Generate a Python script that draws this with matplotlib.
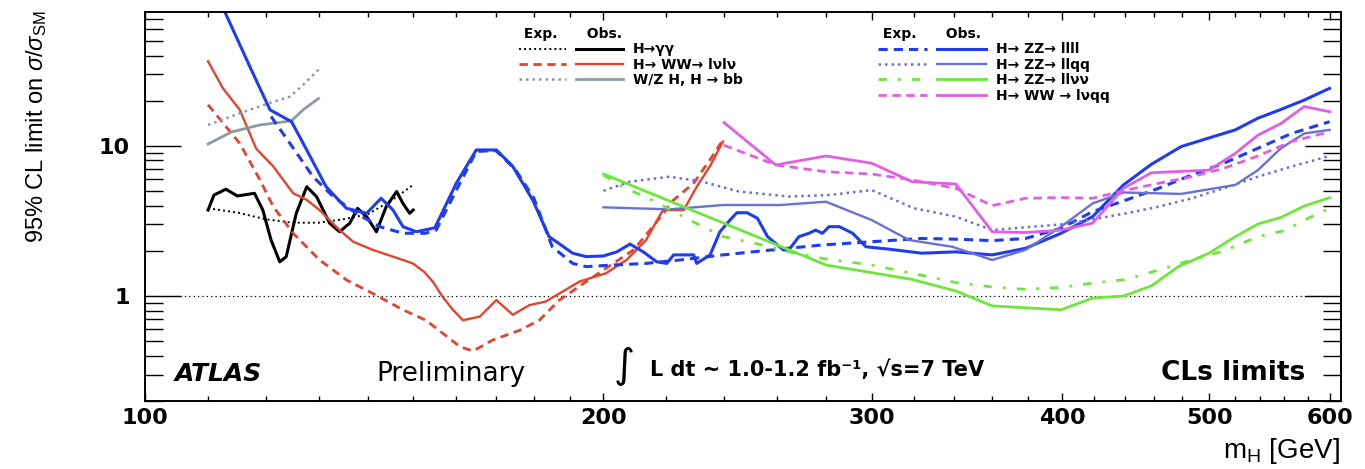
import matplotlib
matplotlib.use('Agg')
import matplotlib.pyplot as plt
from matplotlib.legend_handler import HandlerTuple

plt.rcParams['font.family'] = 'DejaVu Sans'
plt.rcParams['mathtext.fontset'] = 'custom'
plt.rcParams['mathtext.rm'] = 'Liberation Sans'
plt.rcParams['mathtext.it'] = 'Liberation Sans:italic'
plt.rcParams['mathtext.bf'] = 'Liberation Sans:bold'

# H -> gamma gamma
gg_exp_m = [110, 115, 120, 125, 130, 135, 140, 145, 150]
gg_exp_v = [3.84, 3.6, 3.25, 3.08, 3.08, 3.25, 3.5, 4.3, 5.5]
gg_obs_m = [110, 111, 113, 115, 118, 119.5, 121, 122.6, 123.8, 125.7, 127.7, 129.6,
            132.2, 134.2, 136.3, 137.9, 139.8, 141.9, 144, 146.3, 147.7, 149.2, 150]
gg_obs_v = [3.74, 4.71, 5.15, 4.64, 4.84, 3.74, 2.36, 1.69, 1.83, 3.56, 5.35, 4.6,
            3.06, 2.68, 3.06, 3.84, 3.38, 2.68, 3.94, 4.97, 4.14, 3.56, 3.74]

# H -> WW -> lvlv
wwlv_exp_m = [110, 115.4, 119, 121.4, 125.1, 130.2, 135.6, 141.1, 147.7, 152.9, 156, 161,
              164.2, 169.2, 176.1, 181.5, 187.1, 194.9, 203, 209.3, 215.5, 222.4, 229.2,
              234.9, 239.6]
wwlv_exp_v = [18.8, 10.4, 5.93, 3.94, 2.62, 1.74, 1.28, 1.04, 0.81, 0.69, 0.59, 0.46,
              0.43, 0.51, 0.59, 0.69, 0.94, 1.25, 1.65, 2.03, 2.9, 4.37, 5.64, 8.07, 10.96]
wwlv_obs_m = [110, 112.5, 115.4, 118.3, 121.4, 125.1, 127.7, 130.2, 134.2, 137, 141.1,
              145.5, 149.9, 152.5, 154.5, 156.8, 159.3, 161.7, 165.9, 170.1, 174.4, 178.8,
              183.3, 187.1, 192.9, 200.8, 207.1, 213.3, 218.8, 225.8, 230.3, 234.9, 239.6]
wwlv_obs_v = [36.6, 24.2, 17.4, 9.6, 7.3, 4.84, 4.37, 3.74, 2.75, 2.3, 2.03, 1.83, 1.65,
              1.45, 1.25, 0.99, 0.81, 0.69, 0.73, 0.94, 0.75, 0.87, 0.92, 1.04, 1.25, 1.42,
              1.74, 2.36, 3.74, 3.74, 5.35, 7.3, 10.7]

# W/Z H, H -> bb
bb_exp_m = [110, 115.4, 121.4, 124.5, 127, 130]
bb_exp_v = [13.8, 16.5, 19.7, 21.3, 25.5, 32.2]
bb_obs_m = [110, 114, 119, 124.8, 127, 130]
bb_obs_v = [10.3, 12.4, 13.8, 14.7, 17.4, 20.7]

# H -> ZZ -> llll
zz4l_exp_m = [121, 124.5, 128.9, 132.9, 137.6, 142.6, 147.7, 152.9, 155.3, 160, 165, 170,
              175, 180, 185.1, 190.9, 194.9, 203, 213.3, 224.6, 239.6, 258.1, 278.5, 300,
              323.6, 342.5, 360, 378.6, 399.5, 419, 441, 463, 487, 511, 538, 566, 599.6]
zz4l_exp_v = [15.7, 10.4, 6.25, 4.6, 3.56, 2.9, 2.62, 2.62, 2.75, 5.0, 9.2, 9.3, 7.0, 4.5,
              2.13, 1.65, 1.57, 1.61, 1.65, 1.74, 1.88, 2.03, 2.19, 2.3, 2.42, 2.39, 2.34,
              2.42, 2.83, 3.65, 4.37, 5.22, 6.42, 7.67, 9.65, 12.1, 14.5]
zz4l_obs_m = [110, 112.9, 117.2, 120.8, 124.8, 127.7, 131.5, 135.6, 139.8, 142.9, 145.5,
              147.7, 150.7, 155, 160.1, 165, 170.1, 174.4, 179.7, 184.2, 190.9, 194.9, 200,
              204.1, 208.2, 212.4, 216.8, 220.1, 222.4, 229.2, 230.3, 235, 238.5, 242.2,
              244.7, 248.5, 252.4, 256.3, 262.5, 264.7, 268.8, 272.9, 275.6, 278.5, 281.3,
              285.7, 291.5, 297.4, 308.3, 323.6, 340.7, 360, 378.6, 399.5, 419, 439, 458,
              479, 499.6, 520, 538, 557, 577, 599.6]
zz4l_obs_v = [135, 77, 33.6, 17.4, 14.5, 9.4, 5.35, 3.84, 3.56, 4.48, 3.74, 2.9, 2.68,
              2.85, 5.64, 9.4, 9.4, 7.29, 4.37, 2.49, 1.93, 1.83, 1.85, 1.97, 2.22, 1.97,
              1.69, 1.65, 1.88, 1.88, 1.65, 1.88, 2.68, 3.21, 3.59, 3.59, 3.3, 2.49, 2.03,
              2.03, 2.49, 2.62, 2.75, 2.62, 2.9, 2.9, 2.62, 2.13, 2.05, 1.93, 1.97, 1.88,
              2.08, 2.62, 3.38, 5.5, 7.55, 9.9, 11.3, 12.8, 15.3, 17.5, 20.2, 24.2]

# H -> ZZ -> llqq
zzqq_exp_m = [200, 208, 221, 232.4, 245.5, 264.7, 281.3, 300, 320, 340.7, 360, 378.6,
              399.5, 419, 441, 463, 487, 511, 538, 566, 599.6]
zzqq_exp_v = [5.03, 5.77, 6.24, 5.77, 4.97, 4.6, 4.71, 5.08, 3.84, 3.38, 2.75, 2.87, 3.0,
              3.24, 3.56, 3.94, 4.48, 5.22, 6.24, 7.29, 8.57]
zzqq_obs_m = [200, 221, 239.6, 261.2, 280, 300, 317.5, 338.9, 360, 378.6, 399.5, 419, 439,
              479, 520, 538, 557, 577, 599.6]
zzqq_obs_v = [3.9, 3.78, 4.04, 4.04, 4.25, 3.21, 2.36, 2.13, 1.74, 2.03, 2.9, 4.14, 4.9,
              4.79, 5.5, 6.9, 9.65, 12.1, 12.8]

# H -> ZZ -> llvv
zzvv_exp_m = [200, 205.9, 216.4, 227.8, 239.6, 251.8, 264.7, 278.6, 300, 323, 340.7, 360,
              378, 399.5, 419, 441, 463, 487, 511, 538, 560, 580.6, 599.6]
zzvv_exp_v = [6.4, 5.35, 4.25, 3.21, 2.49, 2.24, 1.97, 1.78, 1.61, 1.38, 1.23, 1.15, 1.11,
              1.14, 1.22, 1.29, 1.49, 1.74, 2.0, 2.49, 2.73, 3.3, 3.84]
zzvv_obs_m = [200, 280, 319, 340.7, 360, 399.5, 419, 439, 458, 477, 499.6, 520, 538, 557,
              577, 599.6]
zzvv_obs_v = [6.5, 1.61, 1.29, 1.08, 0.86, 0.81, 0.97, 1.0, 1.17, 1.57, 1.93, 2.49, 3.02,
              3.34, 3.98, 4.52]

# H -> WW -> lvqq
wwqq_exp_m = [240, 259.5, 280, 300, 319, 340.7, 360, 378.6, 399.5, 419, 441, 463, 487, 511,
              538, 566, 599.6]
wwqq_exp_v = [10.1, 7.47, 6.73, 6.5, 5.93, 5.22, 4.0, 4.48, 4.53, 4.48, 5.08, 5.64, 6.24,
              7.1, 8.57, 10.7, 12.4]
wwqq_obs_m = [240, 259.5, 280, 300, 319, 340.7, 360, 378.6, 399.5, 419, 439, 458, 499.6,
              520, 538, 557, 577, 599.6]
wwqq_obs_v = [14.3, 7.47, 8.57, 7.67, 5.77, 5.58, 2.68, 2.65, 2.75, 3.06, 5.22, 6.63, 6.9,
              8.93, 11.8, 14.1, 18.3, 16.9]

x_major = [100, 200, 300, 400, 500, 600]
x_minor = [110, 120, 130, 140, 150, 160, 170, 180, 190, 220, 240, 260, 280, 320, 340, 360,
           380, 420, 440, 460, 480, 520, 540, 560, 580]
y_major = [1, 10]
y_minor = [0.2, 0.3, 0.4, 0.5, 0.6, 0.7, 0.8, 0.9, 2, 3, 4, 5, 6, 7, 8, 9, 20, 30, 40, 50,
           60, 70]

c_blue = '#1f3cf2'
c_red = '#e5432e'
c_gray = '#8d9aa6'
c_slate = '#6a70d6'
c_green = '#6ee63c'
c_mag = '#e35ee3'

fig = plt.figure(figsize=(13.65, 4.69), dpi=100)
ax = fig.add_axes([145 / 1365, 1 - 401 / 469, 1196 / 1365, 389 / 469])
ax.set_xscale('log')
ax.set_yscale('log')

ax.axhline(1, color='k', ls=(0, (1, 2.5)), lw=0.9, zorder=1)

dash = (0, (3, 2))
dot = (0, (1, 1.6))
gg_e, = ax.plot(gg_exp_m, gg_exp_v, color='k', ls=dot, lw=1.4)
gg_o, = ax.plot(gg_obs_m, gg_obs_v, color='k', lw=2.2)
ww_e, = ax.plot(wwlv_exp_m, wwlv_exp_v, color=c_red, ls=dash, lw=2.0)
ww_o, = ax.plot(wwlv_obs_m, wwlv_obs_v, color=c_red, lw=1.7)
bb_e, = ax.plot(bb_exp_m, bb_exp_v, color=c_gray, ls=dot, lw=1.8)
bb_o, = ax.plot(bb_obs_m, bb_obs_v, color=c_gray, lw=2.0)
z4_e, = ax.plot(zz4l_exp_m, zz4l_exp_v, color=c_blue, ls=dash, lw=2.2)
z4_o, = ax.plot(zz4l_obs_m, zz4l_obs_v, color=c_blue, lw=2.2)
zq_e, = ax.plot(zzqq_exp_m, zzqq_exp_v, color=c_slate, ls=dot, lw=1.8)
zq_o, = ax.plot(zzqq_obs_m, zzqq_obs_v, color=c_slate, lw=1.7)
zv_e, = ax.plot(zzvv_exp_m, zzvv_exp_v, color=c_green, ls=(0, (3, 4, 1, 4)), lw=2.0)
zv_o, = ax.plot(zzvv_obs_m, zzvv_obs_v, color=c_green, lw=2.0)
wq_e, = ax.plot(wwqq_exp_m, wwqq_exp_v, color=c_mag, ls=dash, lw=2.0)
wq_o, = ax.plot(wwqq_obs_m, wwqq_obs_v, color=c_mag, lw=2.0)

ax.set_xlim(100, 610)
ax.set_ylim(0.2, 78)

ax.set_xticks(x_major)
ax.set_xticklabels([str(v) for v in x_major])
ax.set_xticks(x_minor, minor=True)
ax.set_xticklabels([], minor=True)
ax.set_yticks(y_major)
ax.set_yticklabels(['1', '10'])
ax.set_yticks(y_minor, minor=True)
ax.set_yticklabels([], minor=True)

ax.tick_params(which='both', direction='in', top=True, right=True)
ax.tick_params(axis='x', which='major', length=6, width=1, pad=5, labelsize=16)
ax.tick_params(axis='x', which='minor', length=3.5, width=1)
ax.tick_params(axis='y', which='major', length=26, width=1, pad=11, labelsize=16)
ax.tick_params(axis='y', which='minor', length=13, width=1)
for lab in ax.get_xticklabels() + ax.get_yticklabels():
    lab.set_fontweight('bold')
for sp in ax.spines.values():
    sp.set_linewidth(1.4)

ax.set_ylabel(r'95% CL limit on $\sigma/\sigma_{\rm SM}$', fontsize=17,
              family='Liberation Sans', loc='top')
ax.yaxis.set_label_coords(-0.08, 1.005)
ax.set_xlabel(r'm$_{\rm H}$ [GeV]', fontsize=20, family='Liberation Sans', loc='right')
ax.xaxis.set_label_coords(0.999, -0.09)

ax.text(0.025, 0.051, 'ATLAS', transform=ax.transAxes, fontsize=18, fontweight='bold',
        fontstyle='italic', va='baseline')
ax.text(0.256, 0.051, 'Preliminary', transform=ax.transAxes, fontsize=19, ha='center',
        va='baseline')
ax.text(0.401, 0.092, '\u222b', transform=ax.transAxes, fontsize=29, ha='center',
        va='center')
ax.text(0.4222, 0.064, 'L dt ~ 1.0-1.2 fb\u207b\u00b9, \u221as=7 TeV', transform=ax.transAxes,
        fontsize=15, fontweight='bold', va='baseline')
ax.text(0.970, 0.053, 'CLs limits', transform=ax.transAxes, fontsize=19,
        fontweight='bold', ha='right', va='baseline')

leg_kw = dict(frameon=False, borderpad=0, borderaxespad=0, labelspacing=0.1,
              handleheight=0.7, handletextpad=0.7, alignment='left',
              prop={'weight': 'bold', 'size': 10},
              title_fontproperties={'weight': 'bold', 'size': 10},
              bbox_transform=fig.transFigure, loc='upper left')

leg1 = ax.legend([(gg_e, gg_o), (ww_e, ww_o), (bb_e, bb_o)],
                 ['H\u2192\u03b3\u03b3', 'H\u2192 WW\u2192 l\u03bdl\u03bd',
                  'W/Z H, H \u2192 bb'],
                 handler_map={tuple: HandlerTuple(ndivide=None, pad=0.7)},
                 handlelength=7.5, title=' Exp.      Obs.',
                 bbox_to_anchor=(519 / 1365, 1 - 27 / 469), **leg_kw)
ax.add_artist(leg1)
leg2 = ax.legend([(z4_e, z4_o), (zq_e, zq_o), (zv_e, zv_o), (wq_e, wq_o)],
                 ['H\u2192 ZZ\u2192 llll', 'H\u2192 ZZ\u2192 llqq',
                  'H\u2192 ZZ\u2192 ll\u03bd\u03bd', 'H\u2192 WW \u2192 l\u03bdqq'],
                 handler_map={tuple: HandlerTuple(ndivide=None, pad=0.7)},
                 handlelength=7.8, title=' Exp.      Obs.',
                 bbox_to_anchor=(878 / 1365, 1 - 27 / 469), **leg_kw)

fig.savefig('out.png', dpi=100)
